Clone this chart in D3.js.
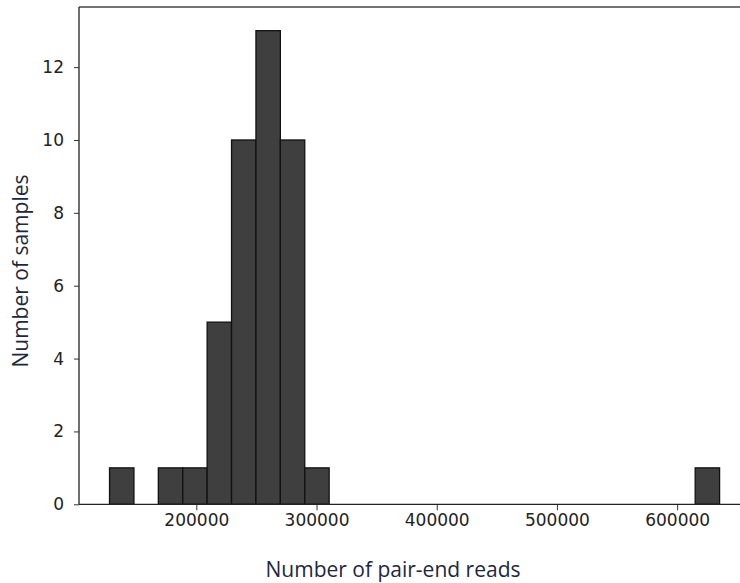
<!DOCTYPE html>
<html>
<head>
<meta charset="utf-8">
<script src="https://cdn.jsdelivr.net/npm/d3@7"></script>
<style>
  body { margin: 0; background: #fff; }
  svg { display: block; }
  .tick text { font-family: "DejaVu Sans", sans-serif; font-size: 17px; fill: #222; }
  .axis-label { font-family: "Open Sans", sans-serif; font-size: 21px; fill: #1c2840; }
</style>
</head>
<body>
<svg id="chart" width="740" height="583"></svg>
<script>
// histogram bins (left edge of each bin) and sample counts
var binStarts = [127800, 148100, 168400, 188700, 209000, 229300, 249600, 269900, 290200, 310500,
                 330800, 351100, 371400, 391700, 412000, 432300, 452600, 472900, 493200, 513500,
                 533800, 554100, 574400, 594700, 615000];
var counts = [1, 0, 1, 1, 5, 10, 13, 10, 1, 0,
              0, 0, 0, 0, 0, 0, 0, 0, 0, 0,
              0, 0, 0, 0, 1];
var binWidth = 20300;
var xTicks = [200000, 300000, 400000, 500000, 600000];
var yTicks = [0, 2, 4, 6, 8, 10, 12];

var margin = {top: 7, left: 79},
    plotRight = 750,
    plotBottom = 504.3;

var x = d3.scaleLinear().domain([102400, 660600]).range([margin.left, plotRight]);
var y = d3.scaleLinear().domain([0, 13.65]).range([plotBottom, margin.top]);

var svg = d3.select("#chart");

var data = binStarts.map(function(s, i) { return {x0: s, x1: s + binWidth, n: counts[i]}; })
  .filter(function(d) { return d.n > 0; });

svg.selectAll(".bar")
    .data(data)
    .enter().append("rect")
    .attr("class", "bar")
    .attr("x", function(d) { return x(d.x0); })
    .attr("width", function(d) { return x(d.x1) - x(d.x0); })
    .attr("y", function(d) { return y(d.n); })
    .attr("height", function(d) { return y(0) - y(d.n); })
    .attr("fill", "#3f3f3f")
    .attr("stroke", "#111")
    .attr("stroke-width", 1.3);

var xAxis = d3.axisBottom(x).tickValues(xTicks).tickSize(6).tickPadding(4).tickFormat(d3.format("d"));
var yAxis = d3.axisLeft(y).tickValues(yTicks).tickSize(5).tickPadding(10);

var gx = svg.append("g")
    .attr("transform", "translate(0," + plotBottom + ")")
    .call(xAxis);
gx.select(".domain").remove();
gx.selectAll(".tick line").attr("stroke", "#333");

var gy = svg.append("g")
    .attr("transform", "translate(" + margin.left + ",0)")
    .call(yAxis);
gy.select(".domain").remove();
gy.selectAll(".tick line").attr("stroke", "#333");

// frame
svg.append("line").attr("x1", margin.left).attr("x2", plotRight)
    .attr("y1", margin.top).attr("y2", margin.top).attr("stroke", "#444").attr("stroke-width", 1.3);
svg.append("line").attr("x1", margin.left).attr("x2", plotRight)
    .attr("y1", plotBottom).attr("y2", plotBottom).attr("stroke", "#222").attr("stroke-width", 1.3);
svg.append("line").attr("x1", margin.left).attr("x2", margin.left)
    .attr("y1", margin.top).attr("y2", plotBottom).attr("stroke", "#222").attr("stroke-width", 1.3);

svg.append("text")
    .attr("class", "axis-label")
    .attr("x", 393)
    .attr("y", 577)
    .attr("text-anchor", "middle")
    .text("Number of pair-end reads");

svg.append("text")
    .attr("class", "axis-label")
    .attr("transform", "translate(28,271) rotate(-90)")
    .attr("text-anchor", "middle")
    .text("Number of samples");
</script>
</body>
</html>
